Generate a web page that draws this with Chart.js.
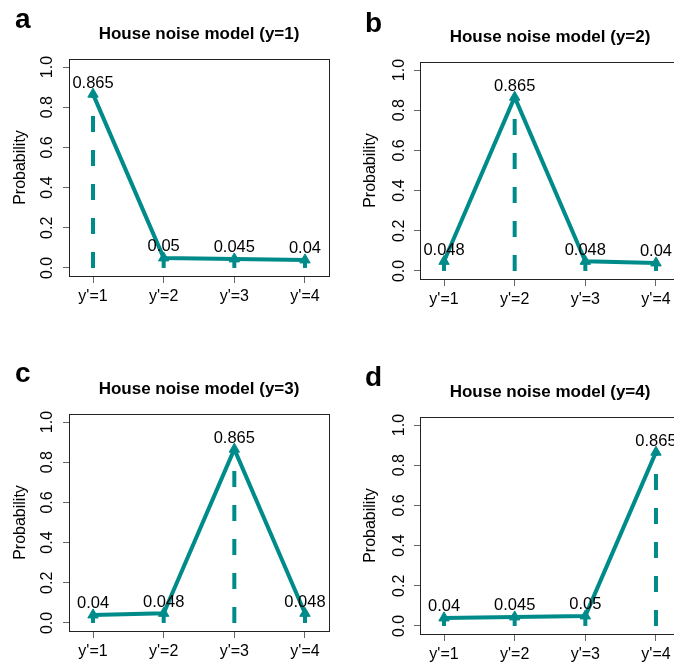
<!DOCTYPE html>
<html>
<head>
<meta charset="utf-8">
<script src="https://cdn.jsdelivr.net/npm/chart.js@4/dist/chart.umd.min.js"></script>
<style>
  html, body { margin: 0; padding: 0; background: #fff; width: 674px; height: 664px; overflow: hidden; }
  canvas { position: absolute; }
</style>
</head>
<body>
<canvas id="ca"></canvas>
<canvas id="cb"></canvas>
<canvas id="cc"></canvas>
<canvas id="cd"></canvas>
<script>
// ---- data ----
const categories = ["y'=1", "y'=2", "y'=3", "y'=4"];
const xPositions = [1, 2, 3, 4];
const yTickValues = [0, 0.2, 0.4, 0.6, 0.8, 1.0];
const seriesA = [0.865, 0.05, 0.045, 0.04];
const seriesB = [0.048, 0.865, 0.048, 0.04];
const seriesC = [0.04, 0.048, 0.865, 0.048];
const seriesD = [0.04, 0.045, 0.05, 0.865];
const titles = ["House noise model (y=1)", "House noise model (y=2)", "House noise model (y=3)", "House noise model (y=4)"];
const panelLetters = ["a", "b", "c", "d"];

const TEAL = '#008B8B';
const FONT = "'Liberation Sans', Arial, Helvetica, sans-serif";

// layout geometry per panel (canvas placement and inner box)
const panels = [
  { id: 'ca', vals: seriesA, ox: 0,   oy: 0,   W: 337, H: 332, top: 59, right: 8, yw: 69, xh: 56, tp: 11.4, ypad: 4.4, lx: 15, ly: 28 },
  { id: 'cb', vals: seriesB, ox: 337, oy: 0,   W: 345, H: 332, top: 62, right: 2, yw: 83, xh: 53, tp: 24.4, ypad: 3.5, lx: 28, ly: 32 },
  { id: 'cc', vals: seriesC, ox: 0,   oy: 332, W: 337, H: 332, top: 82, right: 8, yw: 69, xh: 33, tp: 11.4, ypad: 4.4, lx: 15, ly: 50 },
  { id: 'cd', vals: seriesD, ox: 337, oy: 332, W: 345, H: 332, top: 85, right: 2, yw: 83, xh: 30, tp: 24.4, ypad: 3.5, lx: 28, ly: 54 }
];

const decorPlugin = {
  id: 'decor',
  afterDatasetsDraw(chart) {
    const ctx = chart.ctx;
    const meta = chart.getDatasetMeta(0);
    const vals = chart.data.datasets[0].data;
    ctx.save();
    ctx.fillStyle = '#000';
    ctx.font = '16.5px ' + FONT;
    ctx.textAlign = 'center';
    ctx.textBaseline = 'alphabetic';
    meta.data.forEach((pt, i) => {
      ctx.fillText(String(vals[i].y), pt.x, pt.y - 6.5);
    });
    ctx.restore();
  },
  afterDraw(chart, args, opts) {
    const ctx = chart.ctx;
    const a = chart.chartArea;
    ctx.save();
    ctx.strokeStyle = '#222';
    ctx.lineWidth = 1;
    ctx.strokeRect(Math.round(a.left) + 0.5, Math.round(a.top) + 0.5, Math.round(a.right - a.left), Math.round(a.bottom - a.top));
    ctx.fillStyle = '#000';
    ctx.font = 'bold 17px ' + FONT;
    ctx.textAlign = 'center';
    ctx.textBaseline = 'alphabetic';
    ctx.fillText(opts.title, (a.left + a.right) / 2, a.top - 20.5);
    ctx.font = 'bold 28px ' + FONT;
    ctx.textAlign = 'left';
    ctx.fillText(opts.letter, opts.lx, opts.ly);
    ctx.restore();
  }
};

panels.forEach((p, k) => {
  const cv = document.getElementById(p.id);
  cv.width = p.W; cv.height = p.H;
  cv.style.left = p.ox + 'px'; cv.style.top = p.oy + 'px';
  cv.style.width = p.W + 'px'; cv.style.height = p.H + 'px';

  const datasets = [
    {
      data: xPositions.map((x, i) => ({ x: x, y: p.vals[i] })),
      borderColor: TEAL, borderWidth: 4, tension: 0,
      pointStyle: 'triangle', pointRadius: 6, pointBorderWidth: 1,
      pointBackgroundColor: TEAL, pointBorderColor: TEAL
    }
  ].concat(xPositions.map((x, i) => ({
    data: [{ x: x, y: 0 }, { x: x, y: p.vals[i] }],
    borderColor: TEAL, borderWidth: 4, borderDash: [16, 18], borderCapStyle: 'butt',
    pointRadius: 0
  })));

  new Chart(cv, {
    type: 'line',
    data: { datasets: datasets },
    options: {
      responsive: false, animation: false, devicePixelRatio: 1,
      layout: { autoPadding: false, padding: { top: p.top, right: p.right, left: 0, bottom: 0 } },
      plugins: {
        legend: { display: false }, tooltip: { enabled: false },
        decor: { title: titles[k], letter: panelLetters[k], lx: p.lx, ly: p.ly }
      },
      scales: {
        x: {
          type: 'linear', min: 0.66, max: 4.34,
          afterBuildTicks: s => { s.ticks = xPositions.map(v => ({ value: v })); },
          afterFit: s => { s.height = p.xh; },
          ticks: { callback: v => categories[v - 1], autoSkip: false, maxRotation: 0, minRotation: 0,
                   font: { family: FONT, size: 16 }, color: '#000', padding: 4 },
          grid: { drawOnChartArea: false, tickLength: 7, color: '#666', lineWidth: 1 },
          border: { display: true, color: '#222' }
        },
        y: {
          type: 'linear', min: -0.04, max: 1.04,
          afterBuildTicks: s => { s.ticks = yTickValues.map(v => ({ value: v })); },
          afterFit: s => { s.width = p.yw; },
          ticks: { callback: v => v.toFixed(1), minRotation: 90, maxRotation: 90, crossAlign: 'center',
                   font: { family: FONT, size: 16 }, color: '#000', padding: p.ypad },
          title: { display: true, text: 'Probability', font: { family: FONT, size: 16 }, color: '#000',
                   padding: { top: p.tp, bottom: 0 } },
          grid: { drawOnChartArea: false, tickLength: 6, color: '#666', lineWidth: 1 },
          border: { display: true, color: '#222' }
        }
      }
    },
    plugins: [decorPlugin]
  });
});
</script>
</body>
</html>
